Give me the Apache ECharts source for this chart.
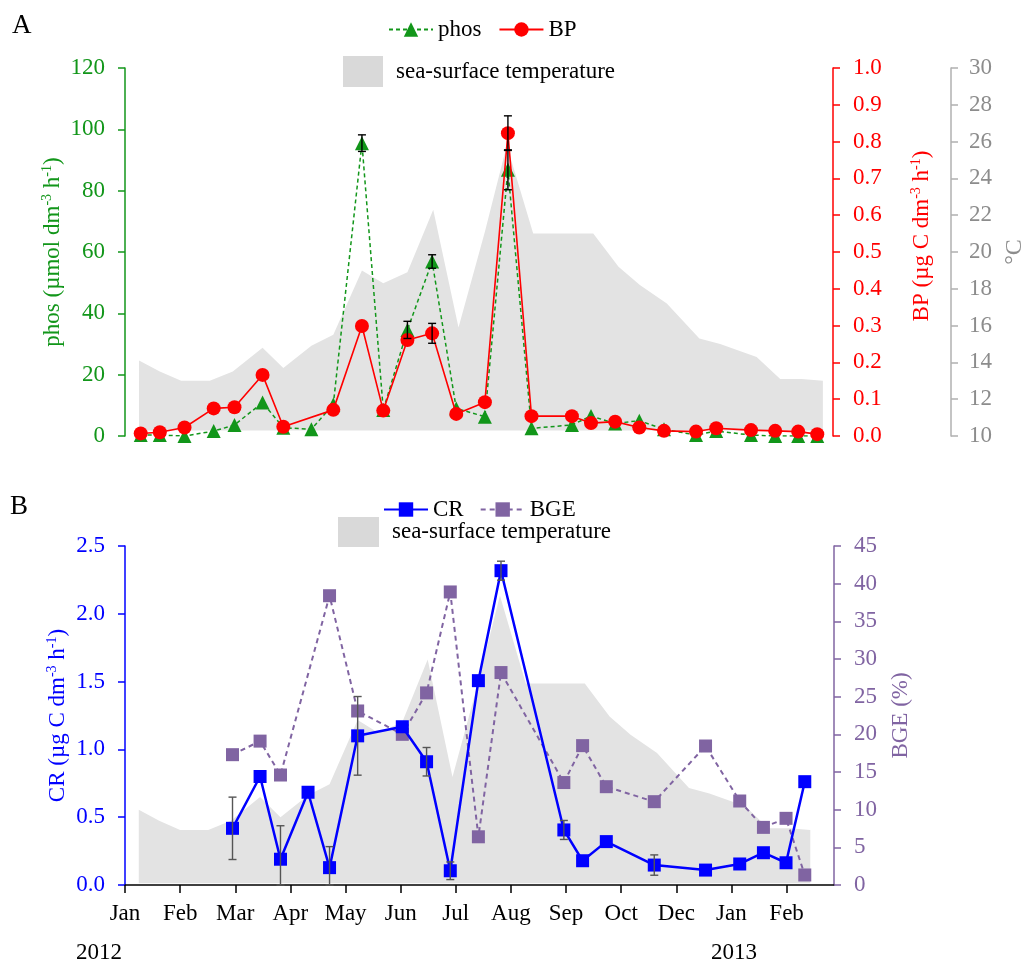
<!DOCTYPE html>
<html><head><meta charset="utf-8">
<script src="https://cdn.jsdelivr.net/npm/echarts@6/dist/echarts.min.js"></script>
<style>html,body{margin:0;padding:0;background:#fff}#c{width:1031px;height:962px}</style>
</head><body><div id="c"></div>
<script>
// x positions in "tick index" units of the month axis (0 = Jan 2012 tick)
const monthLabels = ['Jan','Feb','Mar','Apr','May','Jun','Jul','Aug','Sep','Oct','Dec','Jan','Feb'];
const monthTicks = [0,1,2,3,4,5,6,7,8,9,10,11,12];
const sampleDates = [0.28,0.62,1.06,1.58,1.95,2.45,2.82,3.32,3.71,4.22,4.60,5.03,5.47,5.90,6.41,6.82,7.24,7.96,8.30,8.73,9.16,9.60,10.17,10.53,11.15,11.58,11.99,12.33];
const tempDates = [0.25,0.62,1.0,1.51,1.92,2.45,2.82,3.32,3.71,4.22,4.60,5.03,5.49,5.94,6.41,6.80,7.27,7.96,8.34,8.79,9.17,9.65,10.23,10.60,11.25,11.67,12.05,12.43];
const temperature = [14.1,13.5,13.0,13.0,13.5,14.8,13.7,14.9,15.5,19.0,18.3,18.9,22.3,15.9,21.1,25.8,21.0,21.0,21.0,19.2,18.2,17.2,15.3,15.0,14.3,13.1,13.1,13.0];
const phos = [0.3,0.3,0,1.6,3.6,10.9,2.7,2.2,10.3,95.5,8.5,34.6,56.9,9.0,6.3,86.8,2.5,3.6,6.5,4.1,5.0,2.2,0.3,1.6,0.3,0,0,0];
const phosErr = [null,null,null,null,null,null,null,null,null,2.7,null,2.8,2.2,null,null,6.5,null,null,null,null,null,null,null,null,null,null,null,null];
const bp = [0.007,0.010,0.023,0.075,0.078,0.166,0.025,null,0.071,0.299,0.069,0.261,0.279,0.060,0.092,0.823,0.054,0.054,0.035,0.039,0.023,0.014,0.012,0.021,0.016,0.014,0.012,0.005];
const bpErr = [null,null,null,null,null,null,null,null,null,null,null,null,0.027,null,null,0.047,null,null,null,null,null,null,null,null,null,null,null,null];
const cr = [null,null,null,null,0.418,0.80,0.19,0.684,0.128,1.10,null,1.167,0.909,0.105,1.507,2.318,null,0.406,0.179,0.32,null,0.147,null,0.11,0.155,0.238,0.164,0.762];
const crErr = [null,null,null,null,0.23,null,0.247,null,0.155,0.29,null,null,0.105,0.065,null,0.07,null,0.07,null,null,null,0.075,null,null,null,null,null,null];
const bge = [null,null,null,null,17.3,19.1,14.6,null,38.4,23.1,null,20.0,25.5,38.9,6.4,28.2,null,13.6,18.5,13.05,null,11.06,null,18.45,11.15,7.65,8.85,1.33];

const FONT = 'Liberation Serif';
const FS = 23;
const GREEN = '#12961a', RED = '#ff0000', BLUE = '#0000ff', PURPLE = '#8064a2';

function pairs(vals, dates){ dates = dates || sampleDates; return dates.map((d,i)=>[d, vals[i]]); }
function errPairs(vals, errs){
  const out=[]; sampleDates.forEach((d,i)=>{ if(errs[i]!=null && vals[i]!=null) out.push([d, vals[i], errs[i]]); }); return out;
}
function errRender(params, api){
  const x = api.value(0), y = api.value(1), e = api.value(2);
  const lo = Math.max(0, y - e), hi = y + e;
  const p1 = api.coord([x, hi]), p2 = api.coord([x, lo]);
  const w = 4, c = api.visual('color');
  const st = {stroke:c, lineWidth:1.4};
  return {type:'group', children:[
    {type:'line', shape:{x1:p1[0],y1:p1[1],x2:p2[0],y2:p2[1]}, style:st},
    {type:'line', shape:{x1:p1[0]-w,y1:p1[1],x2:p1[0]+w,y2:p1[1]}, style:st},
    {type:'line', shape:{x1:p2[0]-w,y1:p2[1],x2:p2[0]+w,y2:p2[1]}, style:st}
  ]};
}
function axisName(color, padding){
  return {
    fontFamily: FONT, padding: padding || 0,
    rich: {
      a: {fontSize:FS, color: color, fontFamily: FONT, lineHeight: 25},
      s: {fontSize:14, color: color, fontFamily: FONT, verticalAlign:'top', lineHeight: 15}
    }
  };
}
function yAx(opts){
  return Object.assign({
    type:'value', splitLine:{show:false},
    axisTick:{show:true, length:7, lineStyle:{color:opts.color, width:1.5}},
    axisLine:{show:true, lineStyle:{color:opts.color, width:1.5}},
    axisLabel:{color:opts.labelColor||opts.color, fontSize:FS, fontFamily:FONT, margin:20},
    nameLocation:'middle', nameRotate:90, nameMoveOverlap:false,
    nameTextStyle: axisName(opts.color)
  }, opts);
}

const chart = echarts.init(document.getElementById('c'), null, {renderer:'canvas'});
const legendText = {fontSize:FS, fontFamily:FONT, color:'#000'};
const option = {
  animation:false,
  textStyle:{fontFamily:FONT},
  grid:[
    {left:125, right:198, top:68, height:368, outerBoundsMode:'none', containLabel:false},
    {left:125, right:197, top:546, height:339, outerBoundsMode:'none', containLabel:false}
  ],
  legend:[
    {left:388, top:18, padding:0, itemWidth:44, itemHeight:18, itemGap:17, selectedMode:false,
     textStyle:legendText, data:['phos','BP']},
    {left:343, top:56, padding:0, itemWidth:40, itemHeight:31, selectedMode:false,
     textStyle:Object.assign({padding:[0,0,0,8]}, legendText),
     data:[{name:'sea-surface temperature', icon:'rect'}]},
    {left:383, top:498, padding:0, itemWidth:44, itemHeight:18, itemGap:16, selectedMode:false,
     textStyle:legendText, data:['CR','BGE']},
    {left:338, top:517, padding:0, itemWidth:41, itemHeight:30, selectedMode:false,
     textStyle:Object.assign({padding:[0,0,0,8]}, legendText),
     data:[{name:'sea-surface temperature', icon:'rect'}]}
  ],
  xAxis:[
    {type:'value', gridIndex:0, min:0, max:12.61, show:false, splitLine:{show:false}},
    {type:'value', gridIndex:1, min:0, max:12.86, splitLine:{show:false},
     axisLine:{show:true, onZero:false, lineStyle:{color:'#000', width:1.5}},
     axisTick:{show:true, length:8, customValues:monthTicks, lineStyle:{color:'#000', width:1.5}},
     axisLabel:{customValues:monthTicks, formatter:(v)=>monthLabels[Math.round(v)], color:'#000', fontSize:FS, fontFamily:FONT, margin:17}}
  ],
  yAxis:[
    yAx({gridIndex:0, position:'left', min:0, max:120, interval:20, color:GREEN,
         name:'{a|phos (µmol dm}{s|-3}{a| h}{s|-1}{a|)}', nameGap:60}),
    yAx({gridIndex:0, position:'right', min:0, max:1, interval:0.1, color:RED,
         axisLabel:{color:RED, fontSize:FS, fontFamily:FONT, margin:20, formatter:(v)=>v.toFixed(1)},
         name:'{a|BP (µg C dm}{s|-3}{a| h}{s|-1}{a|)}', nameGap:76,
         nameTextStyle: axisName(RED, [0,0,0,32])}),
    yAx({gridIndex:0, position:'right', offset:118, min:10, max:30, interval:2, color:'#b0b0b0', labelColor:'#8c8c8c',
         axisLabel:{color:'#8c8c8c', fontSize:FS, fontFamily:FONT, margin:18},
         name:'{a|°C}', nameGap:52,
         nameTextStyle:{rich:{a:{fontSize:FS+1, color:'#8c8c8c', fontFamily:FONT}}}}),
    yAx({gridIndex:1, position:'left', min:0, max:2.5, interval:0.5, color:BLUE,
         axisLabel:{color:BLUE, fontSize:FS, fontFamily:FONT, margin:20, formatter:(v)=>v.toFixed(1)},
         name:'{a|CR (µg C dm}{s|-3}{a| h}{s|-1}{a|)}', nameGap:55}),
    yAx({gridIndex:1, position:'right', min:0, max:45, interval:5, color:PURPLE,
         axisLabel:{color:PURPLE, fontSize:FS, fontFamily:FONT, margin:20},
         name:'{a|BGE (%)}', nameGap:54}),
    {type:'value', gridIndex:1, min:10, max:28.5, show:false, splitLine:{show:false}}
  ],
  series:[
    {name:'sea-surface temperature', type:'line', xAxisIndex:0, yAxisIndex:2, data:pairs(temperature, tempDates),
     symbol:'none', lineStyle:{width:0}, itemStyle:{color:'#d9d9d9'},
     areaStyle:{color:'#e3e3e3', opacity:1, origin:10.3}, z:1, silent:true},
    {name:'phos', type:'line', xAxisIndex:0, yAxisIndex:0, data:pairs(phos), connectNulls:true,
     symbol:'triangle', symbolSize:14, itemStyle:{color:GREEN},
     lineStyle:{color:GREEN, width:1.5, type:[4,3]}, z:3},
    {name:'BP', type:'line', xAxisIndex:0, yAxisIndex:1, data:pairs(bp), connectNulls:true,
     symbol:'circle', symbolSize:14, itemStyle:{color:RED},
     lineStyle:{color:RED, width:1.6}, z:4},
    {type:'custom', xAxisIndex:0, yAxisIndex:0, data:errPairs(phos, phosErr), renderItem:errRender,
     itemStyle:{color:'#000'}, encode:{x:0, y:1}, z:6, silent:true},
    {type:'custom', xAxisIndex:0, yAxisIndex:1, data:errPairs(bp, bpErr), renderItem:errRender,
     itemStyle:{color:'#000'}, encode:{x:0, y:1}, z:6, silent:true},

    {name:'sea-surface temperature', type:'line', xAxisIndex:1, yAxisIndex:5, data:pairs(temperature, tempDates),
     symbol:'none', lineStyle:{width:0}, itemStyle:{color:'#d9d9d9'},
     areaStyle:{color:'#e3e3e3', opacity:1, origin:10.1}, z:1, silent:true},
    {name:'BGE', type:'line', xAxisIndex:1, yAxisIndex:4, data:pairs(bge), connectNulls:true,
     symbol:'rect', symbolSize:13, itemStyle:{color:PURPLE},
     lineStyle:{color:PURPLE, width:2, type:[5,4]}, z:3},
    {name:'CR', type:'line', xAxisIndex:1, yAxisIndex:3, data:pairs(cr), connectNulls:true,
     symbol:'rect', symbolSize:13, itemStyle:{color:BLUE},
     lineStyle:{color:BLUE, width:2.5}, z:4},
    {type:'custom', xAxisIndex:1, yAxisIndex:3, data:errPairs(cr, crErr), renderItem:errRender,
     itemStyle:{color:'#555555'}, encode:{x:0, y:1}, z:6, silent:true}
  ],
  graphic:[
    {type:'text', left:12, top:12, style:{text:'A', fontSize:27, fontFamily:FONT, fill:'#000'}},
    {type:'text', left:10, top:493, style:{text:'B', fontSize:27, fontFamily:FONT, fill:'#000'}},
    {type:'text', left:76, top:941, style:{text:'2012', fontSize:FS, fontFamily:FONT, fill:'#000'}},
    {type:'text', left:711, top:941, style:{text:'2013', fontSize:FS, fontFamily:FONT, fill:'#000'}}
  ]
};
chart.setOption(option);
</script>
</body></html>
